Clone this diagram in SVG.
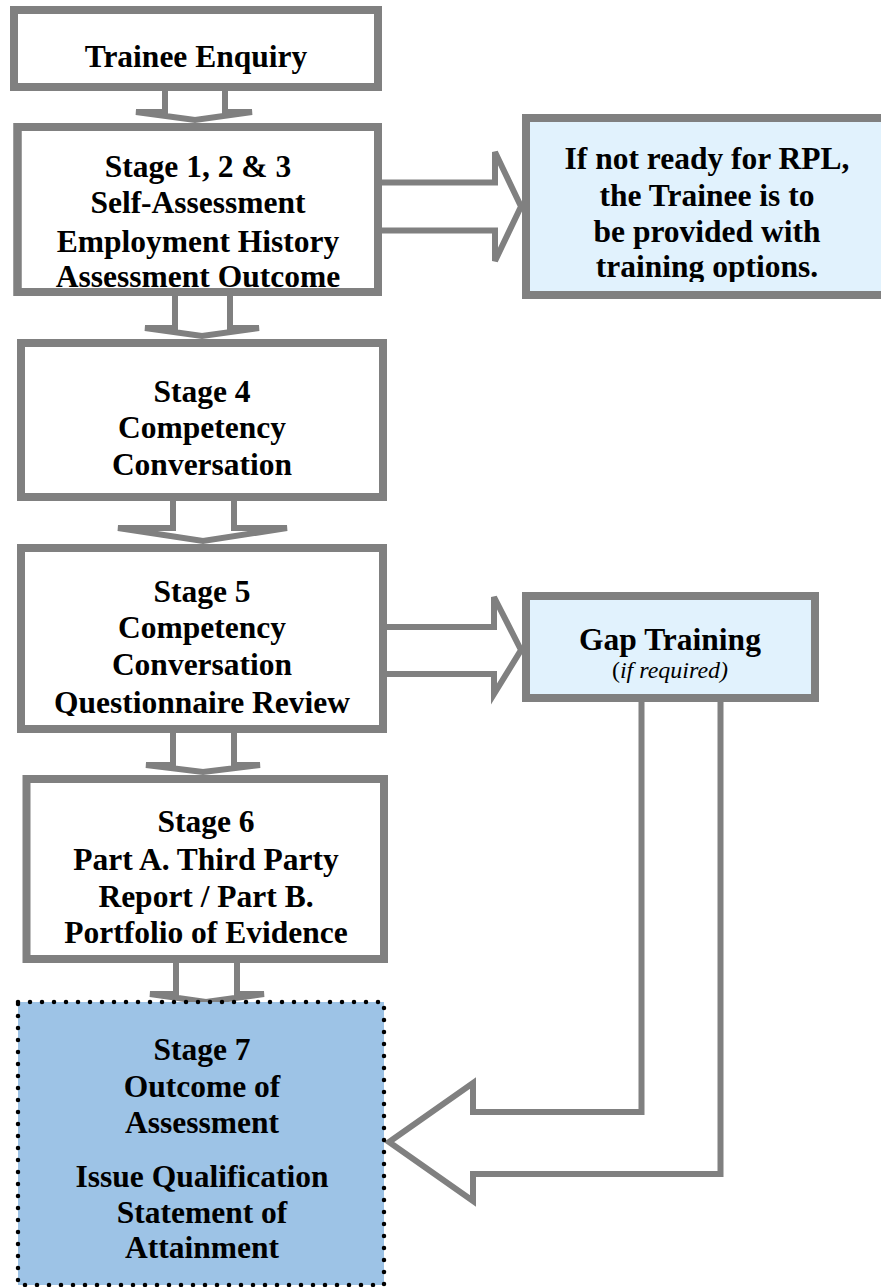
<svg xmlns="http://www.w3.org/2000/svg" width="881" height="1287" viewBox="0 0 881 1287">
<style>
.box{fill:#ffffff;stroke:#808080;stroke-width:8}
.blue{fill:#E1F2FD;stroke:#808080;stroke-width:8}
.edge{fill:none;stroke:#808080;stroke-width:8}
.arr{fill:#ffffff;stroke:#808080;stroke-width:6;stroke-linejoin:miter}
.t{font-family:"Liberation Serif","Times New Roman",serif;font-weight:bold;font-size:31.5px;fill:#000;text-anchor:middle}
.it{font-family:"Liberation Serif","Times New Roman",serif;font-style:italic;font-size:24px;fill:#000;text-anchor:middle}
</style>
<defs>
<clipPath id="clipRpl"><rect x="526" y="118" width="355" height="164"/></clipPath>
<clipPath id="clipS5"><rect x="21" y="548" width="362" height="168"/></clipPath>
</defs>
<rect width="881" height="1287" fill="#ffffff"/>
<g id="connectors">
<path class="arr" d="M165,87 V112 H136 L195,120 L252,112 H225 V87"/>
<path class="arr" d="M175,292 V328 H145 L202,336 L259,328 H230 V292"/>
<path class="arr" d="M173,497 V528 H118 L203,541 L287,528 H234 V497"/>
<path class="arr" d="M173,729 V765 H146 L203,772 L260,765 H234 V729"/>
<path class="arr" d="M176,959 V994 H150 L206,1002 L264,994 H237 V959"/>
<path class="arr" d="M380,182.5 H495 V152 L521,206.5 L495,261 V230.5 H380"/>
<path class="arr" d="M383,627 H494 V597 L521,650 L494,694 V674 H383"/>
<path class="arr" d="M641.5,700 V1112 H473 V1083 L389,1142 L473,1201 V1174 H720.5 V700"/>
</g>
<g id="trainee-enquiry">
<rect class="box" x="14" y="10" width="364" height="77"/>
<text class="t" x="196" y="67">Trainee Enquiry</text>
</g>
<g id="stage-1-2-3">
<rect class="box" x="17.5" y="127" width="360.5" height="165"/>
<text class="t" x="198" y="177">Stage 1, 2 &amp; 3</text>
<text class="t" x="198" y="213">Self-Assessment</text>
<text class="t" x="198" y="252">Employment History</text>
<text class="t" x="198" y="287">Assessment Outcome</text>
<rect class="edge" x="17.5" y="127" width="360.5" height="165"/>
</g>
<g id="not-ready">
<rect class="blue" x="526" y="118" width="370" height="177"/>
<g clip-path="url(#clipRpl)">
<text class="t" x="707" y="169">If not ready for RPL,</text>
<text class="t" x="707" y="206">the Trainee is to</text>
<text class="t" x="707" y="242">be provided with</text>
<text class="t" x="707" y="277">training options.</text>
</g>
</g>
<g id="stage-4">
<rect class="box" x="21" y="343" width="362" height="154"/>
<text class="t" x="202" y="402">Stage 4</text>
<text class="t" x="202" y="438">Competency</text>
<text class="t" x="202" y="475">Conversation</text>
</g>
<g id="stage-5">
<rect class="box" x="21" y="548" width="362" height="181"/>
<g clip-path="url(#clipS5)">
<text class="t" x="202" y="602">Stage 5</text>
<text class="t" x="202" y="638">Competency</text>
<text class="t" x="202" y="675">Conversation</text>
<text class="t" x="202" y="713">Questionnaire Review</text>
</g>
<rect class="edge" x="21" y="548" width="362" height="181"/>
</g>
<g id="gap-training">
<rect class="blue" x="526" y="596" width="289" height="102"/>
<text class="t" x="670" y="650">Gap Training</text>
<text class="it" x="670" y="678"><tspan font-style="normal">(</tspan>if required)</text>
</g>
<g id="stage-6">
<rect class="box" x="26.5" y="779" width="357.5" height="180"/>
<text class="t" x="206" y="832">Stage 6</text>
<text class="t" x="206" y="870">Part A. Third Party</text>
<text class="t" x="206" y="907">Report / Part B.</text>
<text class="t" x="206" y="943">Portfolio of Evidence</text>
</g>
<g id="stage-7">
<rect x="18" y="1002" width="366" height="283" fill="#9DC3E6" stroke="#000" stroke-width="4.5" stroke-linecap="round" stroke-dasharray="0 12"/>
<text class="t" x="202" y="1060">Stage 7</text>
<text class="t" x="202" y="1097">Outcome of</text>
<text class="t" x="202" y="1133">Assessment</text>
<text class="t" x="202" y="1187">Issue Qualification</text>
<text class="t" x="202" y="1223">Statement of</text>
<text class="t" x="202" y="1258">Attainment</text>
</g>
</svg>
